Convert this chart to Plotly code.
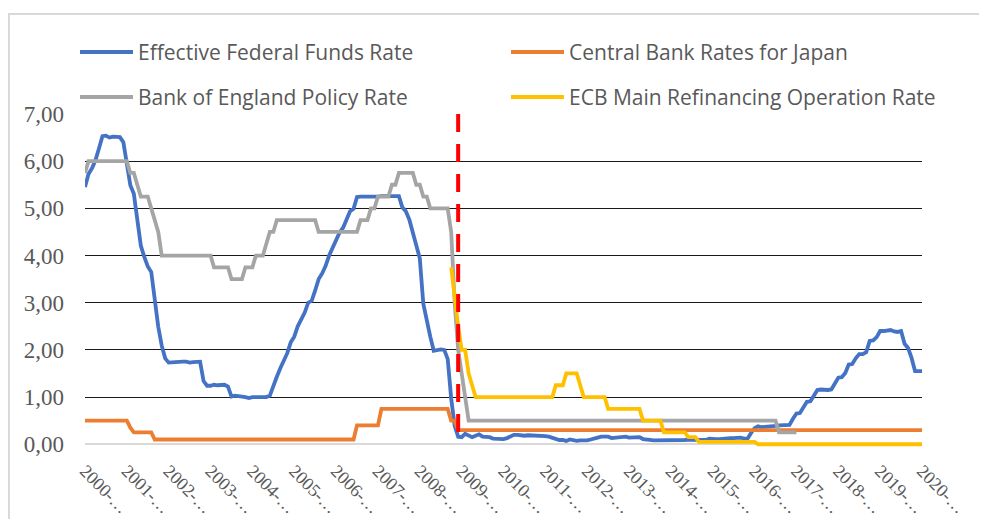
import plotly.graph_objects as go

# ---------------- data ----------------
years = list(range(2000, 2021))
months = [f"{y}-{m:02d}" for y in range(2000, 2020) for m in range(1, 13)] + ["2020-01"]

fed_funds = [
    5.45, 5.73, 5.85, 6.02, 6.27, 6.53, 6.54, 6.50, 6.52, 6.51, 6.51, 6.40,
    5.98, 5.49, 5.31, 4.80, 4.21, 3.97, 3.77, 3.65, 3.07, 2.49, 2.09, 1.82,
    1.73, 1.74, 1.73, 1.75, 1.75, 1.75, 1.73, 1.74, 1.75, 1.75, 1.34, 1.24,
    1.24, 1.26, 1.25, 1.26, 1.26, 1.22, 1.01, 1.03, 1.01, 1.01, 1.00, 0.98,
    1.00, 1.01, 1.00, 1.00, 1.00, 1.03, 1.26, 1.43, 1.61, 1.76, 1.93, 2.16,
    2.28, 2.50, 2.63, 2.79, 3.00, 3.04, 3.26, 3.50, 3.62, 3.78, 4.00, 4.16,
    4.29, 4.49, 4.59, 4.79, 4.94, 4.99, 5.24, 5.25, 5.25, 5.25, 5.25, 5.24,
    5.25, 5.26, 5.26, 5.25, 5.25, 5.25, 5.26, 5.02, 4.94, 4.76, 4.49, 4.24,
    3.94, 2.98, 2.61, 2.28, 1.98, 2.00, 2.01, 2.00, 1.81, 0.97, 0.39, 0.16,
    0.15, 0.22, 0.18, 0.15, 0.18, 0.21, 0.16, 0.16, 0.15, 0.12, 0.12, 0.12,
    0.11, 0.13, 0.16, 0.20, 0.20, 0.18, 0.18, 0.19, 0.19, 0.19, 0.19, 0.18,
    0.17, 0.16, 0.14, 0.10, 0.09, 0.09, 0.07, 0.10, 0.08, 0.07, 0.08, 0.07,
    0.08, 0.10, 0.13, 0.14, 0.16, 0.16, 0.16, 0.13, 0.14, 0.16, 0.16, 0.16,
    0.14, 0.15, 0.14, 0.15, 0.11, 0.09, 0.09, 0.08, 0.08, 0.09, 0.08, 0.09,
    0.07, 0.07, 0.08, 0.09, 0.09, 0.10, 0.09, 0.09, 0.09, 0.09, 0.09, 0.12,
    0.11, 0.11, 0.11, 0.12, 0.12, 0.13, 0.13, 0.14, 0.14, 0.12, 0.12, 0.24,
    0.34, 0.38, 0.36, 0.37, 0.37, 0.38, 0.39, 0.40, 0.40, 0.40, 0.41, 0.54,
    0.65, 0.66, 0.79, 0.90, 0.91, 1.04, 1.15, 1.16, 1.15, 1.15, 1.16, 1.30,
    1.41, 1.42, 1.51, 1.69, 1.70, 1.82, 1.91, 1.91, 1.95, 2.19, 2.20, 2.27,
    2.40, 2.40, 2.41, 2.42, 2.39, 2.38, 2.40, 2.13, 2.04, 1.83, 1.55, 1.55,
    1.55,
]

japan_rate = [
    0.50, 0.50, 0.50, 0.50, 0.50, 0.50, 0.50, 0.50, 0.50, 0.50, 0.50, 0.50,
    0.50, 0.35, 0.25, 0.25, 0.25, 0.25, 0.25, 0.25, 0.10, 0.10, 0.10, 0.10,
    0.10, 0.10, 0.10, 0.10, 0.10, 0.10, 0.10, 0.10, 0.10, 0.10, 0.10, 0.10,
    0.10, 0.10, 0.10, 0.10, 0.10, 0.10, 0.10, 0.10, 0.10, 0.10, 0.10, 0.10,
    0.10, 0.10, 0.10, 0.10, 0.10, 0.10, 0.10, 0.10, 0.10, 0.10, 0.10, 0.10,
    0.10, 0.10, 0.10, 0.10, 0.10, 0.10, 0.10, 0.10, 0.10, 0.10, 0.10, 0.10,
    0.10, 0.10, 0.10, 0.10, 0.10, 0.10, 0.40, 0.40, 0.40, 0.40, 0.40, 0.40,
    0.40, 0.75, 0.75, 0.75, 0.75, 0.75, 0.75, 0.75, 0.75, 0.75, 0.75, 0.75,
    0.75, 0.75, 0.75, 0.75, 0.75, 0.75, 0.75, 0.75, 0.75, 0.50, 0.50, 0.30,
    0.30, 0.30, 0.30, 0.30, 0.30, 0.30, 0.30, 0.30, 0.30, 0.30, 0.30, 0.30,
    0.30, 0.30, 0.30, 0.30, 0.30, 0.30, 0.30, 0.30, 0.30, 0.30, 0.30, 0.30,
    0.30, 0.30, 0.30, 0.30, 0.30, 0.30, 0.30, 0.30, 0.30, 0.30, 0.30, 0.30,
    0.30, 0.30, 0.30, 0.30, 0.30, 0.30, 0.30, 0.30, 0.30, 0.30, 0.30, 0.30,
    0.30, 0.30, 0.30, 0.30, 0.30, 0.30, 0.30, 0.30, 0.30, 0.30, 0.30, 0.30,
    0.30, 0.30, 0.30, 0.30, 0.30, 0.30, 0.30, 0.30, 0.30, 0.30, 0.30, 0.30,
    0.30, 0.30, 0.30, 0.30, 0.30, 0.30, 0.30, 0.30, 0.30, 0.30, 0.30, 0.30,
    0.30, 0.30, 0.30, 0.30, 0.30, 0.30, 0.30, 0.30, 0.30, 0.30, 0.30, 0.30,
    0.30, 0.30, 0.30, 0.30, 0.30, 0.30, 0.30, 0.30, 0.30, 0.30, 0.30, 0.30,
    0.30, 0.30, 0.30, 0.30, 0.30, 0.30, 0.30, 0.30, 0.30, 0.30, 0.30, 0.30,
    0.30, 0.30, 0.30, 0.30, 0.30, 0.30, 0.30, 0.30, 0.30, 0.30, 0.30, 0.30,
    0.30,
]

boe_rate = [
    5.75, 6.00, 6.00, 6.00, 6.00, 6.00, 6.00, 6.00, 6.00, 6.00, 6.00, 6.00,
    6.00, 5.75, 5.75, 5.50, 5.25, 5.25, 5.25, 5.00, 4.75, 4.50, 4.00, 4.00,
    4.00, 4.00, 4.00, 4.00, 4.00, 4.00, 4.00, 4.00, 4.00, 4.00, 4.00, 4.00,
    4.00, 3.75, 3.75, 3.75, 3.75, 3.75, 3.50, 3.50, 3.50, 3.50, 3.75, 3.75,
    3.75, 4.00, 4.00, 4.00, 4.25, 4.50, 4.50, 4.75, 4.75, 4.75, 4.75, 4.75,
    4.75, 4.75, 4.75, 4.75, 4.75, 4.75, 4.75, 4.50, 4.50, 4.50, 4.50, 4.50,
    4.50, 4.50, 4.50, 4.50, 4.50, 4.50, 4.50, 4.75, 4.75, 4.75, 5.00, 5.00,
    5.25, 5.25, 5.25, 5.25, 5.50, 5.50, 5.75, 5.75, 5.75, 5.75, 5.75, 5.50,
    5.50, 5.25, 5.25, 5.00, 5.00, 5.00, 5.00, 5.00, 5.00, 4.50, 3.00, 2.00,
    1.50, 1.00, 0.50, 0.50, 0.50, 0.50, 0.50, 0.50, 0.50, 0.50, 0.50, 0.50,
    0.50, 0.50, 0.50, 0.50, 0.50, 0.50, 0.50, 0.50, 0.50, 0.50, 0.50, 0.50,
    0.50, 0.50, 0.50, 0.50, 0.50, 0.50, 0.50, 0.50, 0.50, 0.50, 0.50, 0.50,
    0.50, 0.50, 0.50, 0.50, 0.50, 0.50, 0.50, 0.50, 0.50, 0.50, 0.50, 0.50,
    0.50, 0.50, 0.50, 0.50, 0.50, 0.50, 0.50, 0.50, 0.50, 0.50, 0.50, 0.50,
    0.50, 0.50, 0.50, 0.50, 0.50, 0.50, 0.50, 0.50, 0.50, 0.50, 0.50, 0.50,
    0.50, 0.50, 0.50, 0.50, 0.50, 0.50, 0.50, 0.50, 0.50, 0.50, 0.50, 0.50,
    0.50, 0.50, 0.50, 0.50, 0.50, 0.50, 0.50, 0.25, 0.25, 0.25, 0.25, 0.25,
    0.25, None, None, None, None, None, None, None, None, None, None, None,
    None, None, None, None, None, None, None, None, None, None, None, None,
    None, None, None, None, None, None, None, None, None, None, None, None,
    None,
]

ecb_rate = [
    None, None, None, None, None, None, None, None, None, None, None, None,
    None, None, None, None, None, None, None, None, None, None, None, None,
    None, None, None, None, None, None, None, None, None, None, None, None,
    None, None, None, None, None, None, None, None, None, None, None, None,
    None, None, None, None, None, None, None, None, None, None, None, None,
    None, None, None, None, None, None, None, None, None, None, None, None,
    None, None, None, None, None, None, None, None, None, None, None, None,
    None, None, None, None, None, None, None, None, None, None, None, None,
    None, None, None, None, None, None, None, None, None, 3.75, 3.10, 2.50,
    2.00, 2.00, 1.50, 1.25, 1.00, 1.00, 1.00, 1.00, 1.00, 1.00, 1.00, 1.00,
    1.00, 1.00, 1.00, 1.00, 1.00, 1.00, 1.00, 1.00, 1.00, 1.00, 1.00, 1.00,
    1.00, 1.00, 1.00, 1.25, 1.25, 1.25, 1.50, 1.50, 1.50, 1.50, 1.25, 1.00,
    1.00, 1.00, 1.00, 1.00, 1.00, 1.00, 0.75, 0.75, 0.75, 0.75, 0.75, 0.75,
    0.75, 0.75, 0.75, 0.75, 0.50, 0.50, 0.50, 0.50, 0.50, 0.50, 0.25, 0.25,
    0.25, 0.25, 0.25, 0.25, 0.25, 0.15, 0.15, 0.15, 0.05, 0.05, 0.05, 0.05,
    0.05, 0.05, 0.05, 0.05, 0.05, 0.05, 0.05, 0.05, 0.05, 0.05, 0.05, 0.05,
    0.05, 0.00, 0.00, 0.00, 0.00, 0.00, 0.00, 0.00, 0.00, 0.00, 0.00, 0.00,
    0.00, 0.00, 0.00, 0.00, 0.00, 0.00, 0.00, 0.00, 0.00, 0.00, 0.00, 0.00,
    0.00, 0.00, 0.00, 0.00, 0.00, 0.00, 0.00, 0.00, 0.00, 0.00, 0.00, 0.00,
    0.00, 0.00, 0.00, 0.00, 0.00, 0.00, 0.00, 0.00, 0.00, 0.00, 0.00, 0.00,
    0.00,
]

series_names = [
    "Effective Federal Funds Rate",
    "Central Bank Rates for Japan",
    "Bank of England Policy Rate",
    "ECB Main Refinancing Operation Rate",
]
y_ticks = [0, 1, 2, 3, 4, 5, 6, 7]
x_tick_labels = [f"{y}-…" for y in years]
crisis_month = "2008-12"
crisis_top = 7.0

# ---------------- styling / layout ----------------
# the page body has an 8px margin, so work in page pixels and shift by OFF
OFF = 8
W, H = 987 - 2 * OFF, 527 - 2 * OFF
PLOT_LEFT, PLOT_RIGHT, PLOT_TOP = 85, 922, 114   # page pixels
ZERO_Y = 444                                     # page pixel of value 0
Y_MIN, Y_MAX = -0.08, 7.0
unit_px = (ZERO_Y - PLOT_TOP) / 7.0
plot_h = (Y_MAX - Y_MIN) * unit_px
L = PLOT_LEFT - OFF
T = PLOT_TOP - OFF
R = W - (PLOT_RIGHT - OFF)
B = H - T - plot_h
plot_w = W - L - R

def px_x(px):
    return (px - OFF - L) / plot_w

def px_y(py):
    return (H - B - (py - OFF)) / plot_h

SERIF = "Times New Roman, Liberation Serif, DejaVu Serif, serif"
colors = ["#4472C4", "#ED7D31", "#A5A5A5", "#FFC000"]
series_values = [fed_funds, japan_rate, boe_rate, ecb_rate]
xidx = list(range(len(months)))

fig = go.Figure()
for name, vals, col in zip(series_names, series_values, colors):
    fig.add_trace(go.Scatter(
        x=xidx, y=vals, name=name, mode="lines",
        line=dict(color=col, width=3.8),
        connectgaps=False, showlegend=False,
    ))

crisis_idx = months.index(crisis_month)
crisis_low = fed_funds[crisis_idx]

shapes = [
    dict(type="line", xref="x", yref="y", x0=crisis_idx, x1=crisis_idx,
         y0=crisis_top, y1=crisis_low, layer="above",
         line=dict(color="#FF0000", width=4, dash="18px,12px")),
    # chart frame
    dict(type="rect", xref="paper", yref="paper",
         x0=px_x(9), x1=px_x(995), y0=px_y(540), y1=px_y(14),
         line=dict(color="#D9D9D9", width=2), layer="below"),
]

annotations = []
legend_pos = [(80, 52), (511, 52), (80, 97), (511, 97)]
for (lx, ly), name, col in zip(legend_pos, series_names, colors):
    shapes.append(dict(type="line", xref="paper", yref="paper",
                       x0=px_x(lx), x1=px_x(lx + 53), y0=px_y(ly), y1=px_y(ly),
                       line=dict(color=col, width=4)))
    annotations.append(dict(xref="paper", yref="paper", x=px_x(lx + 56), y=px_y(ly),
                            xanchor="left", yanchor="middle", showarrow=False,
                            text=name,
                            font=dict(family="Open Sans", size=21, color="#595959")))

fig.update_layout(
    width=W, height=H,
    margin=dict(l=L, r=R, t=T, b=B, pad=0, autoexpand=False),
    paper_bgcolor="white", plot_bgcolor="white",
    separators=",.",
    shapes=shapes, annotations=annotations,
    showlegend=False,
    xaxis=dict(
        range=[0, len(months) - 1], showgrid=False, zeroline=False, showline=False,
        tickmode="array", tickvals=[12 * i for i in range(len(years))],
        ticktext=x_tick_labels, tickangle=45, ticks="", automargin=False,
        tickfont=dict(family=SERIF, size=18, color="#595959"),
        ticklabelstandoff=8,
    ),
    yaxis=dict(
        range=[Y_MIN, Y_MAX], tickmode="array", tickvals=y_ticks, tickformat=".2f",
        showgrid=True, gridcolor="#1A1A1A", gridwidth=1,
        zeroline=True, zerolinecolor="#D9D9D9", zerolinewidth=2,
        showline=False, ticks="", automargin=False,
        tickfont=dict(family=SERIF, size=23, color="#595959"),
        ticklabelstandoff=20,
    ),
)

fig.write_html("out.html")
